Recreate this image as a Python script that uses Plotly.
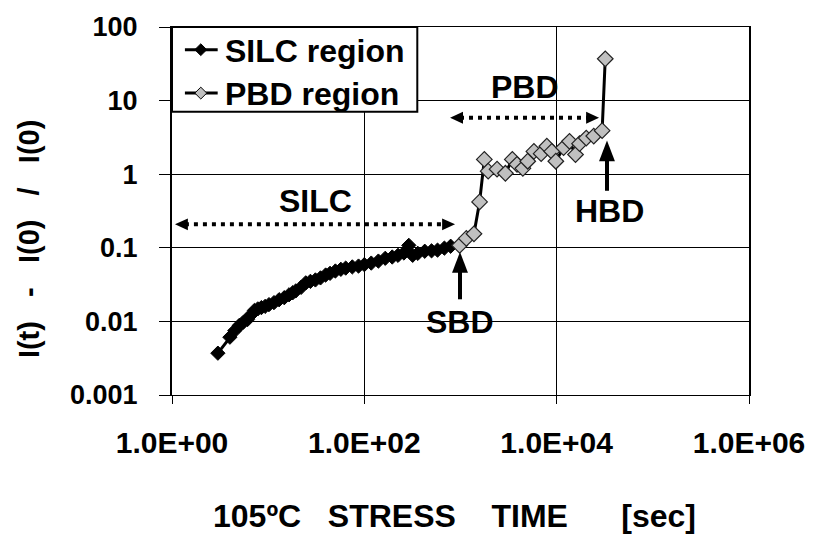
import plotly.graph_objects as go

# ---- data ----
silc_t = [3.0, 4.0, 4.5, 5.0, 5.5, 6.1, 6.6, 7.2, 7.8, 8.5, 9.3, 10.2, 11.5, 13, 14.7,
          16.5, 18, 19.4, 22, 24.6, 27.5, 31, 35, 39.6, 44, 50, 57, 64, 75, 87, 100,
          118, 140, 165, 195, 224, 258, 290, 318, 360, 425, 500, 577, 680, 790]
silc_v = [0.0037, 0.0061, 0.0075, 0.0088, 0.0097, 0.0106, 0.0122, 0.0141, 0.0148, 0.0154,
          0.016, 0.0169, 0.018, 0.0197, 0.021, 0.023, 0.0245, 0.026, 0.029, 0.0334,
          0.035, 0.0366, 0.039, 0.0427, 0.045, 0.0484, 0.051, 0.053, 0.055, 0.0565,
          0.059, 0.062, 0.066, 0.072, 0.075, 0.079, 0.085, 0.108, 0.079, 0.084,
          0.0898, 0.091, 0.093, 0.099, 0.105]

pbd_t = [980, 1150, 1380, 1580, 1770, 1940, 2400, 2930, 3460, 3870, 4450, 5000, 5800,
         6900, 7900, 8900, 9800, 11800, 13600, 15700, 17300, 20300, 24300, 29700, 32000]
pbd_v = [0.108, 0.134, 0.155, 0.42, 1.59, 1.10, 1.17, 1.03, 1.59, 1.36, 1.20, 1.50, 2.04,
         1.90, 2.40, 2.04, 1.50, 2.30, 2.80, 1.85, 2.60, 3.10, 3.30, 3.90, 37]

x_tickvals = [1, 1e2, 1e4, 1e6]
x_ticktext = ["1.0E+00", "1.0E+02", "1.0E+04", "1.0E+06"]
y_tickvals = [0.001, 0.01, 0.1, 1, 10, 100]
y_ticktext = ["0.001", "0.01", "0.1", "1", "10", "100"]

series_names = ["SILC region", "PBD region"]
series_fill = ["black", "#C0C0C0"]
x_title = "105ºC\u00a0\u00a0\u00a0STRESS\u00a0\u00a0\u00a0\u00a0TIME\u00a0\u00a0\u00a0\u00a0\u00a0\u00a0[sec]"
y_title = "I(t)\u00a0\u00a0\u00a0-\u00a0\u00a0\u00a0I(0)\u00a0\u00a0\u00a0/\u00a0\u00a0\u00a0I(0)"

# ---- layout geometry (pixels) ----
W, H = 817, 538
L, R, T, B = 172, 64, 22, 143
PW, PH = W - L - R, H - T - B


def px(x):
    return (x - L) / PW


def py(y):
    return (H - B - y) / PH


FONT = "Liberation Sans, Arial, sans-serif"

fig = go.Figure()
fig.add_trace(go.Scatter(
    x=silc_t, y=silc_v, mode="lines+markers", name=series_names[0],
    line=dict(color="black", width=3),
    marker=dict(symbol="diamond", size=11, color=series_fill[0], line=dict(color="black", width=1)),
))
fig.add_trace(go.Scatter(
    x=pbd_t, y=pbd_v, mode="lines+markers", name=series_names[1],
    line=dict(color="black", width=3),
    marker=dict(symbol="diamond", size=12, color=series_fill[1], line=dict(color="#222222", width=1.2)),
))

shapes = []
annotations = []


def dotted_arrow(x0, x1, y):
    shapes.append(dict(type="line", xref="paper", yref="paper",
                       x0=px(x0 + 10), x1=px(x1 - 10), y0=py(y), y1=py(y),
                       line=dict(color="black", width=4, dash="4px,5px")))
    for tip, back in ((x0, x0 + 13), (x1, x1 - 13)):
        shapes.append(dict(type="path", xref="paper", yref="paper",
                           path=f"M {px(tip)} {py(y)} L {px(back)} {py(y - 6)} L {px(back)} {py(y + 6)} Z",
                           fillcolor="black", line=dict(color="black", width=0)))


def up_arrow(x, tip, tail):
    shapes.append(dict(type="line", xref="paper", yref="paper",
                       x0=px(x), x1=px(x), y0=py(tail), y1=py(tip + 15),
                       line=dict(color="black", width=4)))
    shapes.append(dict(type="path", xref="paper", yref="paper",
                       path=f"M {px(x)} {py(tip)} L {px(x - 8)} {py(tip + 21)} L {px(x + 8)} {py(tip + 21)} Z",
                       fillcolor="black", line=dict(color="black", width=0)))


dotted_arrow(175, 457, 222)
dotted_arrow(452, 602, 114)
up_arrow(462, 250, 298)
up_arrow(610, 137, 188)


def label(text, x, y, size=32, angle=0, anchor="center"):
    annotations.append(dict(text=text, xref="paper", yref="paper", x=px(x), y=py(y),
                            xanchor=anchor, yanchor="middle", showarrow=False,
                            textangle=angle,
                            font=dict(family=FONT, size=size, color="black", weight="bold")))


label("SILC", 316, 198)
label("PBD", 527, 83)
label("HBD", 613, 209)
label("SBD", 462, 321)
label(x_title, 456, 518)
label(y_title, 28, 237, size=29, angle=-90)

# ---- legend box (drawn above the plot, top-left corner) ----
shapes.append(dict(type="rect", xref="paper", yref="paper", layer="above",
                   x0=px(172), x1=px(419), y0=py(22), y1=py(108),
                   fillcolor="white", line=dict(color="black", width=2)))
for i, (name, fill) in enumerate(zip(series_names, series_fill)):
    cy = 45 + 44 * i
    shapes.append(dict(type="line", xref="paper", yref="paper", layer="above",
                       x0=px(185), x1=px(218), y0=py(cy), y1=py(cy),
                       line=dict(color="black", width=3)))
    r = 6
    shapes.append(dict(type="path", xref="paper", yref="paper", layer="above",
                       path=(f"M {px(201)} {py(cy - r)} L {px(201 + r)} {py(cy)} "
                             f"L {px(201)} {py(cy + r)} L {px(201 - r)} {py(cy)} Z"),
                       fillcolor=fill, line=dict(color="black", width=1)))
    label(name, 223, cy + 1, size=32, anchor="left")

fig.update_layout(
    width=W, height=H,
    margin=dict(l=L, r=R, t=T, b=B, pad=0),
    paper_bgcolor="white", plot_bgcolor="white",
    font=dict(family=FONT, color="black", weight="bold"),
    showlegend=False,
    shapes=shapes,
    annotations=annotations,
)

fig.update_xaxes(
    type="log", range=[0, 6],
    tickmode="array", tickvals=x_tickvals, ticktext=x_ticktext,
    tickfont=dict(family=FONT, size=30, color="black", weight="bold"),
    ticks="outside", ticklen=8, tickwidth=1, tickcolor="black",
    ticklabelstandoff=13,
    showgrid=True, gridcolor="black", gridwidth=1,
    showline=True, linecolor="black", linewidth=1, mirror=True,
    zeroline=False,
)
fig.update_yaxes(
    type="log", range=[-3, 2],
    tickmode="array", tickvals=y_tickvals, ticktext=y_ticktext,
    tickfont=dict(family=FONT, size=27, color="black", weight="bold"),
    ticks="outside", ticklen=11, tickwidth=1, tickcolor="black",
    ticklabelstandoff=16,
    showgrid=True, gridcolor="black", gridwidth=1,
    showline=True, linecolor="black", linewidth=2, mirror=True,
    zeroline=False,
)

fig.write_html("out.html")
